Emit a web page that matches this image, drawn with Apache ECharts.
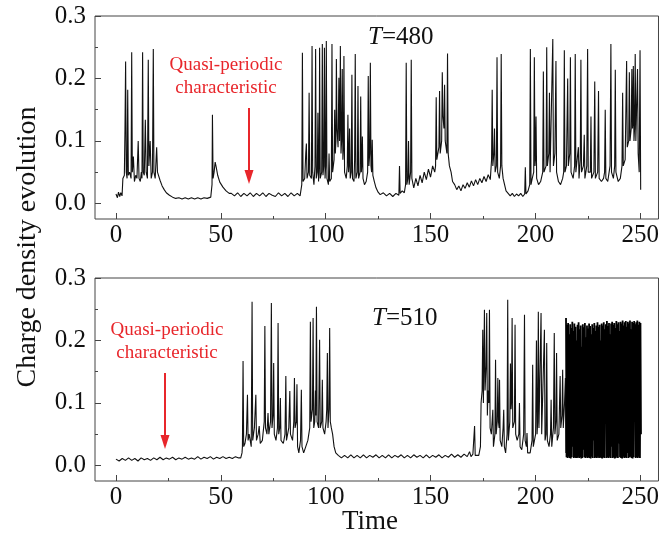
<!DOCTYPE html>
<html>
<head>
<meta charset="utf-8">
<script src="https://cdn.jsdelivr.net/npm/echarts@6/dist/echarts.min.js"></script>
<style>html,body{margin:0;padding:0;background:#fff}#c{width:662px;height:549px}</style>
</head>
<body>
<div id="c"></div>
<script>
// ---- data (time, charge density) ----
const seriesT480 = [
[0,0.015],[0.7,0.009],[1.2,0.018],[1.8,0.011],[2.3,0.017],[2.9,0.012],[3.3,0.04],[4,0.045],[4.3,0.12],[4.6,0.227],[4.9,0.05],[5.3,0.04],[5.6,0.182],[5.9,0.045],[6.5,0.05],[7.2,0.04],[7.5,0.242],[7.8,0.05],[8.3,0.075],[8.8,0.035],[9.4,0.045],[10,0.04],[10.6,0.10],[11,0.04],[11.6,0.035],[12.1,0.05],[12.4,0.04],[12.7,0.242],[13,0.05],[13.5,0.045],[14,0.134],[14.4,0.05],[15,0.04],[15.4,0.23],[15.7,0.06],[16.3,0.10],[16.8,0.04],[17.4,0.05],[17.8,0.247],[18.1,0.05],[18.7,0.04],[19.4,0.09],[19.8,0.05],
[21,0.037],[22,0.028],[23,0.022],[24,0.017],[25.5,0.013],[27,0.01],[28.5,0.008],[30,0.009],[31.5,0.007],[33,0.009],[34.5,0.007],[36,0.009],[37.5,0.007],[39,0.009],[40.5,0.007],[42,0.009],[43.5,0.008],[45.2,0.01],[45.8,0.03],[46,0.142],[46.3,0.04],[46.8,0.05],[47.3,0.066],[47.8,0.058],[48.5,0.045],[49.5,0.034],[51,0.026],[52.5,0.02],[54,0.016],
[55,0.016],[56.5,0.012],[58,0.017],[59.5,0.011],[61,0.016],[62.5,0.012],[64,0.017],[65.5,0.011],[67,0.016],[68.5,0.012],[70,0.017],[71.5,0.011],[73,0.016],[74.5,0.013],[76,0.011],[77.5,0.017],[79,0.012],[80.5,0.016],[82,0.011],[83.5,0.017],[85,0.012],[86.5,0.016],[87.8,0.012],
[88.6,0.03],[88.9,0.241],[89.2,0.035],[90,0.04],[90.5,0.08],[90.8,0.096],[91.1,0.04],[91.8,0.05],[92.1,0.177],[92.4,0.045],[93.2,0.04],[93.5,0.252],[93.8,0.05],[94.4,0.03],[94.9,0.06],[95.2,0.247],[95.5,0.04],[96,0.05],[96.3,0.145],[96.6,0.035],[96.9,0.06],[97.1,0.249],[97.4,0.04],[98.1,0.05],[98.4,0.255],[98.7,0.045],[99.1,0.06],[99.4,0.249],[99.7,0.04],[100,0.06],[100.3,0.26],[100.6,0.04],[101.3,0.03],[101.6,0.08],[101.9,0.035],[102.7,0.04],[103,0.255],[103.3,0.05],[104,0.07],[104.3,0.15],[104.6,0.08],[104.9,0.1],[105.1,0.231],[105.4,0.12],[105.9,0.09],[106.3,0.201],[106.6,0.1],[106.8,0.13],[107,0.252],[107.3,0.08],[107.6,0.1],[107.9,0.215],[108.2,0.07],[108.5,0.09],[108.7,0.236],[109,0.05],[109.8,0.04],[110.3,0.06],[110.6,0.142],[110.9,0.05],[111.1,0.06],[111.4,0.12],[111.7,0.04],[112.2,0.05],[112.5,0.206],[112.8,0.04],[113.5,0.035],[113.8,0.07],[114.1,0.239],[114.4,0.04],[115.1,0.05],[115.4,0.188],[115.7,0.04],[116.4,0.05],[116.7,0.171],[117,0.05],[117.2,0.06],[117.5,0.107],[117.8,0.04],[118.5,0.03],[119.3,0.035],[120,0.05],[120.3,0.204],[120.6,0.06],[121,0.08],[121.3,0.225],[121.6,0.06],[121.9,0.05],[122.2,0.102],[122.5,0.045],[123.2,0.035],[124,0.025],[125,0.018],
[126,0.014],[127.5,0.017],[129,0.012],[130.5,0.016],[132,0.011],[133.5,0.016],[134.9,0.013],[135.2,0.06],[135.5,0.016],[136.5,0.02],[137.5,0.017],[138.1,0.03],[138.4,0.225],[138.7,0.03],[139.2,0.04],[139.5,0.10],[139.8,0.03],[140.5,0.05],[140.8,0.23],[141.1,0.04],[142,0.025],[143,0.04],[144,0.028],[145,0.045],[146,0.033],[147,0.05],[148,0.038],[149,0.055],[150,0.042],[151,0.06],[152,0.05],[152.4,0.06],[152.7,0.17],[153,0.07],[154,0.09],[154.3,0.18],[154.6,0.08],[155.3,0.1],[155.6,0.21],[155.9,0.14],[156.4,0.12],[156.7,0.19],[157,0.1],[157.8,0.08],[158.1,0.24],[158.4,0.08],[159,0.06],[159.8,0.05],[160.5,0.035],[161.5,0.03],[162.5,0.022],[163.5,0.028],[164.5,0.02],[165.5,0.03],[166.5,0.024],[167.5,0.033],[168.5,0.026],[169.5,0.036],[170.5,0.028],[171.5,0.038],[172.5,0.03],[173.5,0.04],[174.5,0.033],[175.5,0.043],[176.5,0.035],[177.5,0.046],[178.5,0.038],
[178.8,0.04],[179.1,0.07],[179.4,0.182],[179.7,0.06],[180.2,0.08],[180.5,0.12],[180.8,0.05],[181.4,0.06],[181.7,0.234],[182,0.05],[182.8,0.04],[183.4,0.06],[183.7,0.239],[184,0.06],[184.6,0.04],[185.3,0.03],[186,0.02],[187,0.016],[188,0.012],[189,0.016],[190,0.011],[191,0.015],[192,0.012],[193,0.016],[194,0.011],[194.9,0.015],[195.2,0.058],[195.5,0.015],[196.5,0.02],[197.3,0.03],[197.6,0.247],[197.9,0.03],
[198.5,0.04],[199.2,0.05],[199.5,0.234],[199.8,0.06],[200,0.07],[200.3,0.139],[200.6,0.04],[201.5,0.03],[202.5,0.035],[203.5,0.05],[203.8,0.211],[204.1,0.05],[205.1,0.06],[205.4,0.25],[205.7,0.06],[206.4,0.08],[206.7,0.177],[207,0.05],[207.8,0.05],[208.3,0.263],[208.6,0.06],[209.3,0.08],[209.8,0.228],[210.1,0.05],[211,0.035],[212,0.03],[213,0.04],[213.5,0.05],[213.8,0.245],[214.1,0.05],[214.8,0.06],[215.4,0.2],[215.7,0.06],[216.4,0.08],[216.7,0.234],[217,0.05],[218,0.04],[218.7,0.06],[219,0.239],[219.3,0.05],[220.2,0.05],[220.5,0.09],[220.8,0.04],[221.4,0.07],[221.7,0.23],[222,0.05],[222.9,0.06],[223.3,0.11],[223.6,0.04],[224.5,0.06],[224.9,0.247],[225.2,0.05],[226.2,0.05],[226.5,0.139],[226.8,0.04],[227.9,0.05],[228.3,0.195],[228.6,0.04],[229.7,0.05],[230.1,0.18],[230.4,0.04],[231.5,0.035],[232.5,0.04],[233,0.05],[233.3,0.15],[233.6,0.04],[234.5,0.035],[235.6,0.06],[236,0.255],[236.3,0.05],[237.2,0.04],[237.8,0.06],[238.1,0.214],[238.4,0.05],[239.5,0.035],[240.5,0.04],[241.3,0.06],[241.6,0.177],[241.9,0.06],[242.8,0.07],[243.5,0.228],[243.8,0.09],[244.5,0.1],[244.8,0.21],[245.1,0.1],[245.7,0.12],[246,0.215],[246.3,0.12],[246.5,0.13],[246.7,0.22],[247,0.1],[247.3,0.12],[247.6,0.239],[247.9,0.1],[248.3,0.1],[248.7,0.215],[249,0.08],[249.5,0.05],[249.9,0.245],[250.2,0.022]
];

const seriesT510Head = [
[0,0.01],[1.5,0.007],[3,0.011],[4.5,0.008],[6,0.012],[7.5,0.008],[9,0.011],[10.5,0.007],[12,0.012],[13.5,0.009],[15,0.011],[16.5,0.008],[18,0.012],[19.5,0.009],[21,0.013],[22.5,0.009],[24,0.012],[25.5,0.01],[27,0.013],[28.5,0.009],[30,0.012],[31.5,0.01],[33,0.013],[34.5,0.01],[36,0.012],[37.5,0.01],[39,0.014],[40.5,0.01],[42,0.013],[43.5,0.011],[45,0.014],[46.5,0.01],[48,0.013],[49.5,0.011],[51,0.014],[52.5,0.011],[54,0.013],[55.5,0.011],[57,0.014],[58.5,0.012],
[59.5,0.012],[60.1,0.02],[60.3,0.03],[60.6,0.167],[60.9,0.03],[61.5,0.035],[62.2,0.05],[62.7,0.113],[63,0.04],[63.5,0.05],[63.8,0.047],[64.5,0.03],[64.9,0.262],[65.2,0.04],[66,0.06],[66.7,0.113],[67,0.04],[67.8,0.05],[68.3,0.063],[68.8,0.035],[69.8,0.04],[70.7,0.07],[71,0.223],[71.3,0.06],[72,0.05],[72.5,0.084],[72.9,0.05],[73.7,0.07],[74.1,0.26],[74.4,0.06],[74.9,0.08],[75.2,0.164],[75.5,0.05],[76.3,0.04],[77,0.06],[77.3,0.228],[77.6,0.05],[78.1,0.06],[78.4,0.108],[78.7,0.04],[79.8,0.035],[80.6,0.05],[81,0.143],[81.3,0.04],[82.4,0.06],[82.9,0.119],[83.2,0.05],[84.2,0.04],[84.8,0.07],[85.1,0.14],[85.4,0.06],[86,0.07],[86.3,0.13],[86.6,0.03],[87.2,0.02],[88,0.04],[88.4,0.121],[88.7,0.03],[89.5,0.02],[90.5,0.03],[91.5,0.04],[92.4,0.06],[92.7,0.23],[93,0.07],[93.7,0.09],[94,0.236],[94.3,0.06],[94.8,0.07],[95.1,0.12],[95.3,0.08],[95.6,0.254],[95.9,0.07],[96.6,0.06],[97.1,0.201],[97.4,0.06],[98.1,0.07],[98.4,0.137],[98.7,0.06],[99.5,0.05],[100.2,0.07],[100.5,0.09],[100.8,0.18],[101.1,0.06],[101.6,0.09],[101.9,0.22],[102.2,0.07],[102.7,0.06],[103.3,0.05],[104,0.03],[104.8,0.02],
[106,0.016],[107.5,0.012],[109,0.016],[110.5,0.012],[112,0.017],[113.5,0.012],[115,0.016],[116.5,0.012],[118,0.017],[119.5,0.012],[121,0.016],[122.5,0.013],[124,0.017],[125.5,0.012],[127,0.016],[128.5,0.012],[130,0.017],[131.5,0.012],[133,0.016],[134.5,0.013],[136,0.017],[137.5,0.012],[139,0.016],[140.5,0.012],[142,0.017],[143.5,0.013],[145,0.016],[146.5,0.012],[148,0.017],[149.5,0.012],[151,0.016],[152.5,0.013],[154,0.017],[155.5,0.012],[157,0.016],[158.5,0.013],[160,0.018],[161.5,0.013],[163,0.017],[164.5,0.013],[166,0.018],[167.5,0.014],[168.6,0.022],[169.3,0.014],[170.2,0.018],
[170.7,0.016],[171,0.063],[171.3,0.016],[172,0.013],[173,0.016],[173.8,0.03],[174.1,0.1],[174.6,0.12],[174.9,0.217],[175.2,0.1],[175.4,0.15],[175.7,0.249],[176,0.12],[176.5,0.16],[176.8,0.244],[177.1,0.08],[177.4,0.12],[177.8,0.1],[178.1,0.249],[178.4,0.06],[179,0.05],[179.7,0.089],[180,0.03],[180.7,0.05],[181,0.169],[181.3,0.05],[181.8,0.07],[182.1,0.14],[182.4,0.07],[182.7,0.06],[182.9,0.137],[183.2,0.04],[184,0.03],[184.6,0.06],[184.9,0.089],[185.2,0.03],[185.8,0.02],[186.5,0.05],[186.8,0.265],[187.1,0.04],[187.8,0.07],[188.1,0.163],[188.4,0.09],[188.6,0.1],[188.9,0.236],[189.2,0.06],[190,0.07],[190.3,0.225],[190.6,0.05],[191.3,0.04],[192.1,0.05],[192.4,0.1],[192.7,0.03],[193.5,0.025],[194.4,0.05],[194.8,0.241],[195.1,0.04],[195.7,0.03],[196,0.052],[196.3,0.02],[197.5,0.02],[198.4,0.04],[198.7,0.161],[199,0.03],[200.1,0.05],[200.5,0.2],[200.8,0.05],[201.1,0.07],[201.4,0.246],[201.7,0.06],[202.4,0.06],[202.7,0.244],[203,0.05],[203.9,0.05],[204.3,0.217],[204.6,0.04],[205.1,0.05],[205.4,0.196],[205.7,0.04],[206.5,0.03],[207.2,0.05],[207.5,0.105],[207.8,0.03],[208.6,0.06],[209,0.212],[209.3,0.05],[209.8,0.07],[210.1,0.18],[210.4,0.04],[211.2,0.05],[211.8,0.143],[212.1,0.06],[212.7,0.08],[213,0.153],[213.3,0.06],[213.9,0.1],[214.3,0.14],[214.55,0.02]
];

// dense oscillation after t ~ 214.7: alternating peak / trough samples
const denseStart = 214.6;
const denseStep = 0.25;
const densePeaks = [
0.236,0.225,0.228,0.21,0.226,0.22,0.23,0.215,0.227,0.222,
0.2,0.225,0.229,0.218,0.224,0.19,0.226,0.221,0.228,0.205,
0.224,0.219,0.227,0.223,0.21,0.226,0.22,0.228,0.215,0.224,
0.229,0.222,0.225,0.2,0.227,0.224,0.229,0.218,0.226,0.231,
0.223,0.228,0.21,0.227,0.23,0.225,0.228,0.22,0.231,0.226,
0.229,0.215,0.23,0.227,0.232,0.224,0.229,0.231,0.222,0.23,
0.227,0.232,0.218,0.23,0.228,0.231,0.226,0.229,0.232,0.225,
0.23,0.228
];
const denseTroughs = [
0.013,0.012,0.014,0.012,0.011,0.013,0.03,0.012,0.013,0.012,
0.012,0.014,0.012,0.013,0.011,0.012,0.025,0.013,0.012,0.014,
0.012,0.013,0.012,0.011,0.014,0.012,0.04,0.012,0.013,0.012,
0.014,0.012,0.013,0.012,0.011,0.013,0.012,0.089,0.012,0.013,
0.012,0.014,0.012,0.03,0.012,0.013,0.011,0.012,0.014,0.012,
0.035,0.013,0.012,0.011,0.014,0.012,0.013,0.012,0.02,0.012,
0.013,0.014,0.012,0.011,0.013,0.07,0.012,0.013,0.012,0.014,
0.012,0.05
];

const xMajorTicks = [0, 50, 100, 150, 200, 250];
const xMinorTicks = [25, 75, 125, 175, 225];
const yMajorTicks = [0, 0.1, 0.2, 0.3];
const yMinorTicks = [0.05, 0.15, 0.25];

// ---- build ----
const seriesT510Dense = [];
for (let i = 0; i < densePeaks.length; i++) {
  seriesT510Dense.push([denseStart + (2 * i) * denseStep, densePeaks[i]]);
  seriesT510Dense.push([denseStart + (2 * i + 1) * denseStep, denseTroughs[i]]);
}

const FONT = '"Liberation Serif", "Times New Roman", serif';
const AX = '#444';
const X_MIN = -10, X_MAX = 258.7, Y_MIN = -0.025, Y_MAX = 0.3;

function xAxes(g) {
  return [
    { gridIndex: g, type: 'value', position: 'bottom', min: X_MIN, max: X_MAX,
      axisLine: { show: false, onZero: false }, splitLine: { show: false },
      axisTick: { inside: true, length: 6, customValues: xMajorTicks, lineStyle: { color: AX } },
      axisLabel: { customValues: xMajorTicks, fontFamily: FONT, fontSize: 25, color: '#111', margin: 4 } },
    { gridIndex: g, type: 'value', position: 'bottom', min: X_MIN, max: X_MAX,
      axisLine: { show: false, onZero: false }, splitLine: { show: false },
      axisTick: { inside: true, length: 3, customValues: xMinorTicks, lineStyle: { color: AX } },
      axisLabel: { show: false } }
  ];
}
function yAxes(g) {
  return [
    { gridIndex: g, type: 'value', position: 'left', min: Y_MIN, max: Y_MAX,
      axisLine: { show: false, onZero: false }, splitLine: { show: false },
      axisTick: { inside: true, length: 6, customValues: yMajorTicks, lineStyle: { color: AX } },
      axisLabel: { customValues: yMajorTicks, formatter: v => v.toFixed(1), fontFamily: FONT, fontSize: 25, color: '#111', margin: 9 } },
    { gridIndex: g, type: 'value', position: 'left', min: Y_MIN, max: Y_MAX,
      axisLine: { show: false, onZero: false }, splitLine: { show: false },
      axisTick: { inside: true, length: 3, customValues: yMinorTicks, lineStyle: { color: AX } },
      axisLabel: { show: false } }
  ];
}

const RED = '#e8262b';
const ITALIC = { fontStyle: 'italic', fontFamily: FONT, fontSize: 25, fill: '#111' };
const chart = echarts.init(document.getElementById('c'), null, { renderer: 'canvas' });
chart.setOption({
  animation: false,
  backgroundColor: '#fff',
  grid: [
    { left: 95, top: 16, width: 565, height: 203, show: true, borderColor: AX, borderWidth: 1, backgroundColor: 'transparent' },
    { left: 95, top: 278, width: 565, height: 203, show: true, borderColor: AX, borderWidth: 1, backgroundColor: 'transparent' }
  ],
  xAxis: [...xAxes(0), ...xAxes(1)],
  yAxis: [...yAxes(0), ...yAxes(1)],
  series: [
    { type: 'line', xAxisIndex: 0, yAxisIndex: 0, data: seriesT480, showSymbol: false, silent: true,
      lineStyle: { color: '#111', width: 1.1 }, clip: true },
    { type: 'line', xAxisIndex: 2, yAxisIndex: 2, data: seriesT510Head, showSymbol: false, silent: true,
      lineStyle: { color: '#111', width: 1.1 }, clip: true },
    { type: 'line', xAxisIndex: 2, yAxisIndex: 2, data: seriesT510Dense, showSymbol: false, silent: true,
      lineStyle: { color: '#000', width: 1.8 }, clip: true }
  ],
  graphic: [
    { type: 'text', x: 370, y: 522, style: { text: 'Time', font: '27px ' + FONT, fill: '#111', align: 'center', verticalAlign: 'middle' } },
    { type: 'text', x: 28, y: 247, rotation: Math.PI / 2, style: { text: 'Charge density evolution', font: '28px ' + FONT, fill: '#111', align: 'center', verticalAlign: 'middle' } },
    { type: 'text', x: 368, y: 37, style: { text: '{i|T}=480', font: '25px ' + FONT, fill: '#111', align: 'left', verticalAlign: 'middle', rich: { i: ITALIC } } },
    { type: 'text', x: 372, y: 318, style: { text: '{i|T}=510', font: '25px ' + FONT, fill: '#111', align: 'left', verticalAlign: 'middle', rich: { i: ITALIC } } },
    { type: 'text', x: 226, y: 77, style: { text: 'Quasi-periodic\ncharacteristic', font: '19px ' + FONT, fill: RED, align: 'center', verticalAlign: 'middle', lineHeight: 23 } },
    { type: 'text', x: 167, y: 342, style: { text: 'Quasi-periodic\ncharacteristic', font: '19px ' + FONT, fill: RED, align: 'center', verticalAlign: 'middle', lineHeight: 23 } },
    { type: 'line', shape: { x1: 249, y1: 108, x2: 249, y2: 172 }, style: { stroke: RED, lineWidth: 2 } },
    { type: 'polygon', shape: { points: [[244.5, 170], [253.5, 170], [249, 184]] }, style: { fill: RED } },
    { type: 'line', shape: { x1: 165, y1: 373, x2: 165, y2: 437 }, style: { stroke: RED, lineWidth: 2 } },
    { type: 'polygon', shape: { points: [[160.5, 435], [169.5, 435], [165, 449]] }, style: { fill: RED } }
  ]
});
</script>
</body>
</html>
